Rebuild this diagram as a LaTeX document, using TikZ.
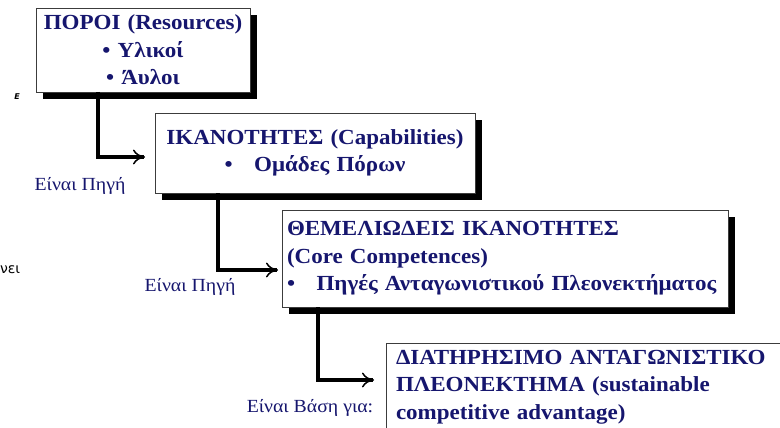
\documentclass[tikz,border=0pt]{standalone}
\usepackage{fontspec}
\setmainfont[FakeStretch=1.07]{Liberation Serif}
\newfontfamily\strayfont{DejaVu Sans}
\usetikzlibrary{shapes,arrows.meta,positioning,shadows}
\definecolor{navy}{RGB}{22,22,110}
\definecolor{edgegray}{RGB}{60,60,60}

\begin{document}
\begin{tikzpicture}[x=1pt,y=-1pt,% styles for boxes, labels and links
			every node/.style={inner sep=0pt,outer sep=0pt},
			box/.style={rectangle,draw=edgegray,line width=0.8pt,fill=white,anchor=north west,
				drop shadow={fill=black,opacity=1,shadow xshift=7pt,shadow yshift=-7pt},
				text=navy,font=\fontsize{21.5}{27.5}\selectfont\bfseries},
			label/.style={text=navy,font=\fontsize{18.5}{22}\selectfont},
			link/.style={line width=3.5pt,-{To[length=12pt,width=15pt,line width=1.5pt]}}
		]
		\useasboundingbox (0,0) rectangle (780,428);
		\clip (0,0) rectangle (780,428);
		\fill[white] (0,0) rectangle (780,428);
		% the four levels
		\node[box,minimum width=214pt,minimum height=84pt,text width=214pt,align=center](R1) at (36,8)
			{ΠΟΡΟΙ (Resources)\\ \textbullet\ Υλικοί\\ \textbullet\ Άυλοι};
		\node[box,minimum width=320pt,minimum height=80pt,text width=320pt,align=center](R2) at (155,113)
			{ΙΚΑΝΟΤΗΤΕΣ (Capabilities)\\ \textbullet\quad Ομάδες Πόρων};
		\node[box,inner xsep=5pt,minimum height=97pt,text width=436pt,align=left](R3) at (282,210)
			{ΘΕΜΕΛΙΩΔΕΙΣ ΙΚΑΝΟΤΗΤΕΣ\\ (Core Competences)\\ \textbullet\quad Πηγές Ανταγωνιστικού Πλεονεκτήματος};
		\node[box,inner xsep=10pt,minimum height=88pt,text width=420pt,align=left](R4) at (386,343)
			{ΔΙΑΤΗΡΗΣΙΜΟ ΑΝΤΑΓΩΝΙΣΤΙΚΟ\\ ΠΛΕΟΝΕΚΤΗΜΑ (sustainable\\ competitive advantage)};
		% labels under the links
		\node[label](L1) at (80,186) {Είναι Πηγή};
		\node[label](L2) at (190,287) {Είναι Πηγή};
		\node[label](L3) at (310,408) {Είναι Βάση για:};
		% cut-off text at the left edge
		\node[font=\strayfont\bfseries\itshape\fontsize{8}{9}\selectfont](S1) at (17,97) {Ε};
		\node[font=\strayfont\fontsize{14}{15}\selectfont,anchor=west](S2) at (0,270) {νει};
		% links
		\draw[link,shorten >=10pt] ([xshift=62pt]R1.south west) |- ([yshift=-4pt]R2.west);
		\draw[link,shorten >=4pt] ([xshift=63pt]R2.south west) |- ([yshift=-11.5pt]R3.west);
		\draw[link,shorten >=12pt] ([xshift=36pt]R3.south west) |- ([yshift=7pt]R4.west);
	\end{tikzpicture}
\end{document}
